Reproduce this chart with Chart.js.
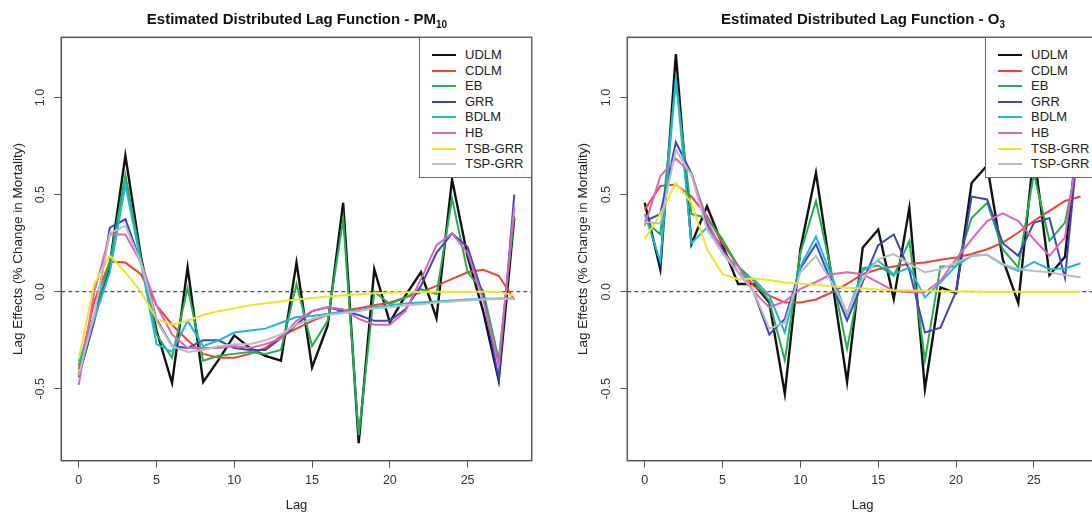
<!DOCTYPE html>
<html>
<head>
<meta charset="utf-8">
<script src="https://cdn.jsdelivr.net/npm/chart.js@4.4.1/dist/chart.umd.min.js"></script>
<style>
  body { margin: 0; width: 1092px; height: 515px; overflow: hidden; background: #fff;
         position: relative; font-family: "Liberation Sans", Arial, sans-serif; }
  .panel { position: absolute; top: 0; }
  .title { position: absolute; top: 10px; width: 500px; text-align: center;
           font-weight: bold; font-size: 15px; color: #111; }
  .title sub { font-size: 10px; vertical-align: -4px; line-height: 0; }
  .legend { position: absolute; top: 37px; width: 113px; height: 141px; background: #fff;
            border: 1px solid #666; box-sizing: border-box; }
  .legend .row { position: absolute; left: 0; width: 112px; height: 16px; }
  .legend .swatch { position: absolute; left: 12px; top: 7px; width: 24px; height: 2px; }
  .legend .name { position: absolute; left: 45px; top: 0; font-size: 13px; line-height: 16px; color: #222; }
</style>
</head>
<body>
<canvas id="pmChart" class="panel" width="546" height="515" style="left:0"></canvas>
<canvas id="o3Chart" class="panel" width="560" height="515" style="left:546px"></canvas>
<div class="title" style="left:47px">Estimated Distributed Lag Function - PM<sub>10</sub></div>
<div class="title" style="left:613px">Estimated Distributed Lag Function - O<sub>3</sub></div>
<div id="pmLegend" class="legend" style="left:419px"></div>
<div id="o3Legend" class="legend" style="left:985px"></div>

<script>
// categories
const lags = [0, 1, 2, 3, 4, 5, 6, 7, 8, 9, 10, 11, 12, 13, 14, 15, 16, 17, 18, 19, 20, 21, 22, 23, 24, 25, 26, 27, 28];
const seriesNames = ['UDLM', 'CDLM', 'EB', 'GRR', 'BDLM', 'HB', 'TSB-GRR', 'TSP-GRR'];
const xTicks = [0, 5, 10, 15, 20, 25];
const yTicks = [-0.5, 0, 0.5, 1.0];

// PM10 lag effects
const pmUDLM   = [-0.43, -0.14, 0.14, 0.70, 0.18, -0.20, -0.47, 0.125, -0.465, -0.35, -0.225, -0.29, -0.33, -0.355, 0.15, -0.39, -0.175, 0.458, -0.78, 0.116, -0.157, -0.02, 0.10, -0.137, 0.578, 0.18, -0.10, -0.456, 0.38];
const pmCDLM   = [-0.40, -0.05, 0.155, 0.15, 0.09, -0.07, -0.17, -0.25, -0.32, -0.34, -0.34, -0.32, -0.29, -0.23, -0.19, -0.15, -0.12, -0.098, -0.085, -0.07, -0.055, -0.03, -0.003, 0.03, 0.066, 0.10, 0.113, 0.082, -0.04];
const pmEB     = [-0.38, -0.12, 0.15, 0.60, 0.17, -0.22, -0.34, 0.02, -0.355, -0.33, -0.32, -0.31, -0.32, -0.30, 0.04, -0.28, -0.15, 0.373, -0.74, 0.0, -0.063, -0.03, 0.013, -0.012, 0.48, 0.10, 0.005, -0.35, 0.39];
const pmGRR    = [-0.44, -0.15, 0.33, 0.373, 0.15, -0.14, -0.28, -0.29, -0.25, -0.25, -0.29, -0.30, -0.30, -0.24, -0.17, -0.10, -0.08, -0.10, -0.12, -0.15, -0.15, -0.09, 0.03, 0.20, 0.30, 0.23, -0.02, -0.45, 0.50];
const pmBDLM   = [-0.36, -0.14, 0.10, 0.55, 0.15, -0.27, -0.31, -0.15, -0.28, -0.25, -0.21, -0.20, -0.19, -0.16, -0.13, -0.125, -0.115, -0.105, -0.095, -0.08, -0.07, -0.06, -0.055, -0.05, -0.045, -0.04, -0.038, -0.035, -0.033];
const pmHB     = [-0.48, 0.0, 0.295, 0.295, 0.15, -0.07, -0.22, -0.29, -0.29, -0.29, -0.28, -0.29, -0.27, -0.24, -0.15, -0.10, -0.08, -0.09, -0.14, -0.17, -0.17, -0.10, 0.065, 0.24, 0.30, 0.20, -0.04, -0.38, 0.44];
const pmTSBGRR = [-0.345, 0.04, 0.185, 0.10, 0.0, -0.14, -0.17, -0.15, -0.12, -0.10, -0.085, -0.07, -0.06, -0.05, -0.04, -0.032, -0.025, -0.018, -0.013, -0.008, -0.005, -0.003, -0.002, 0.0, 0.0, 0.0, 0.0, 0.0, -0.02];
const pmTSPGRR = [-0.43, -0.12, 0.30, 0.34, 0.15, -0.15, -0.28, -0.31, -0.30, -0.28, -0.27, -0.27, -0.25, -0.22, -0.17, -0.14, -0.12, -0.11, -0.10, -0.085, -0.08, -0.07, -0.065, -0.055, -0.05, -0.045, -0.04, -0.038, -0.035];

// O3 lag effects
const o3UDLM   = [0.458, 0.116, 1.224, 0.245, 0.44, 0.24, 0.04, 0.04, -0.055, -0.525, 0.219, 0.612, 0.076, -0.465, 0.226, 0.32, -0.038, 0.432, -0.50, 0.022, -0.007, 0.56, 0.65, 0.168, -0.058, 0.72, 0.085, 0.18, 0.95];
const o3CDLM   = [0.423, 0.544, 0.552, 0.49, 0.39, 0.25, 0.133, 0.03, -0.02, -0.055, -0.055, -0.04, -0.004, 0.04, 0.09, 0.116, 0.13, 0.143, 0.15, 0.165, 0.176, 0.194, 0.219, 0.253, 0.305, 0.364, 0.416, 0.467, 0.49];
const o3EB     = [0.364, 0.296, 1.09, 0.40, 0.38, 0.27, 0.13, 0.057, -0.046, -0.354, 0.20, 0.467, 0.10, -0.294, 0.12, 0.135, 0.082, 0.262, -0.354, 0.13, 0.13, 0.38, 0.458, 0.219, 0.125, 0.61, 0.262, 0.356, 0.75];
const o3GRR    = [0.363, 0.40, 0.77, 0.61, 0.35, 0.22, 0.10, 0.0, -0.22, -0.14, 0.12, 0.245, 0.048, -0.148, 0.05, 0.24, 0.295, 0.11, -0.21, -0.185, 0.0, 0.49, 0.475, 0.25, 0.185, 0.355, 0.38, 0.07, 0.90];
const o3BDLM   = [0.40, 0.155, 1.10, 0.25, 0.33, 0.20, 0.10, 0.065, -0.02, -0.21, 0.13, 0.284, 0.08, -0.115, 0.107, 0.16, 0.09, 0.125, -0.029, 0.048, 0.134, 0.185, 0.19, 0.14, 0.107, 0.154, 0.116, 0.12, 0.147];
const o3HB     = [0.34, 0.595, 0.685, 0.61, 0.37, 0.20, 0.13, 0.0, -0.08, -0.05, 0.015, 0.05, 0.09, 0.10, 0.09, 0.048, 0.005, -0.003, -0.003, 0.056, 0.168, 0.27, 0.364, 0.403, 0.364, 0.27, 0.185, 0.28, 0.85];
const o3TSBGRR = [0.27, 0.40, 0.561, 0.458, 0.218, 0.09, 0.064, 0.068, 0.06, 0.048, 0.043, 0.035, 0.03, 0.02, 0.017, 0.012, 0.008, 0.006, 0.005, 0.003, 0.002, 0.001, 0.0, 0.0, 0.0, 0.0, 0.0, 0.0, 0.0];
const o3TSPGRR = [0.36, 0.35, 0.73, 0.60, 0.32, 0.20, 0.10, 0.0, -0.19, -0.16, 0.10, 0.184, 0.05, -0.107, 0.065, 0.168, 0.194, 0.143, 0.10, 0.116, 0.15, 0.185, 0.19, 0.143, 0.116, 0.107, 0.10, 0.086, 0.074];

const pmSeries = [pmUDLM, pmCDLM, pmEB, pmGRR, pmBDLM, pmHB, pmTSBGRR, pmTSPGRR];
const o3Series = [o3UDLM, o3CDLM, o3EB, o3GRR, o3BDLM, o3HB, o3TSBGRR, o3TSPGRR];

// styles
const seriesColors = ['#111111', '#f4402f', '#22b04e', '#3f45bd', '#1cb6df', '#df62bc', '#efe520', '#bdbdbd'];

Chart.defaults.font.family = '"Liberation Sans", Arial, sans-serif';
Chart.defaults.color = '#333';

// box around plot area + dashed zero reference line
const framePlugin = {
  id: 'frame',
  beforeDatasetsDraw(chart) {
    const { ctx, chartArea: a, scales: { y } } = chart;
    const y0 = y.getPixelForValue(0);
    ctx.save();
    ctx.setLineDash([4, 3]);
    ctx.strokeStyle = '#222';
    ctx.lineWidth = 1;
    ctx.beginPath();
    ctx.moveTo(a.left, y0);
    ctx.lineTo(a.right, y0);
    ctx.stroke();
    ctx.restore();
  },
  afterDatasetsDraw(chart) {
    const { ctx, chartArea: a } = chart;
    ctx.save();
    ctx.strokeStyle = '#555';
    ctx.lineWidth = 1.5;
    ctx.strokeRect(a.left, a.top, a.right - a.left, a.bottom - a.top);
    ctx.restore();
  }
};

function makeChart(canvasId, series, axisWidth, rightPad, yTitlePad) {
  const ctx = document.getElementById(canvasId).getContext('2d');
  const datasets = series.map((values, i) => ({
    label: seriesNames[i],
    data: values.map((v, j) => ({ x: lags[j], y: v })),
    borderColor: seriesColors[i],
    borderWidth: i === 0 ? 2.4 : 2,
    pointRadius: 0,
    tension: 0,
    fill: false,
    order: -i
  }));

  return new Chart(ctx, {
    type: 'line',
    data: { datasets },
    plugins: [framePlugin],
    options: {
      responsive: false,
      animation: false,
      devicePixelRatio: 1,
      layout: { padding: { top: 37.3, right: rightPad, left: 0, bottom: 0 } },
      plugins: { legend: { display: false }, tooltip: { enabled: false } },
      scales: {
        x: {
          type: 'linear',
          min: -1.12,
          max: 29.12,
          afterBuildTicks: s => { s.ticks = xTicks.map(v => ({ value: v })); },
          afterFit: s => { s.height = 54.3; },
          grid: { drawOnChartArea: false, drawTicks: true, tickLength: 7, color: '#555' },
          border: { display: false },
          ticks: { font: { size: 12.5 }, padding: 5, color: '#333', maxRotation: 0 },
          title: { display: true, text: 'Lag', font: { size: 13 }, color: '#222', padding: { top: 0, bottom: 2.2 } }
        },
        y: {
          min: -0.87,
          max: 1.31,
          afterBuildTicks: s => { s.ticks = yTicks.map(v => ({ value: v })); },
          afterFit: s => { s.width = axisWidth; },
          grid: { drawOnChartArea: false, drawTicks: true, tickLength: 7, color: '#555' },
          border: { display: false },
          ticks: {
            font: { size: 12.5 }, padding: 3, color: '#333',
            minRotation: 90, maxRotation: 90, crossAlign: 'center',
            callback: v => v.toFixed(1)
          },
          title: {
            display: true, text: 'Lag Effects (% Change in Mortality)',
            font: { size: 13.5 }, color: '#222', padding: { top: yTitlePad, bottom: 0 }
          }
        }
      }
    }
  });
}

// R-style legend box in the top right corner of each panel
function buildLegend(containerId) {
  const box = document.getElementById(containerId);
  seriesNames.forEach((name, i) => {
    const row = document.createElement('div');
    row.className = 'row';
    row.style.top = (9 + i * 15.6) + 'px';
    row.innerHTML = `<span class="swatch" style="background:${seriesColors[i]}"></span><span class="name">${name}</span>`;
    box.appendChild(row);
  });
}

makeChart('pmChart', pmSeries, 61.3, 14.3, 9.9);
makeChart('o3Chart', o3Series, 81.3, 8, 28.9);
buildLegend('pmLegend');
buildLegend('o3Legend');
</script>
</body>
</html>
